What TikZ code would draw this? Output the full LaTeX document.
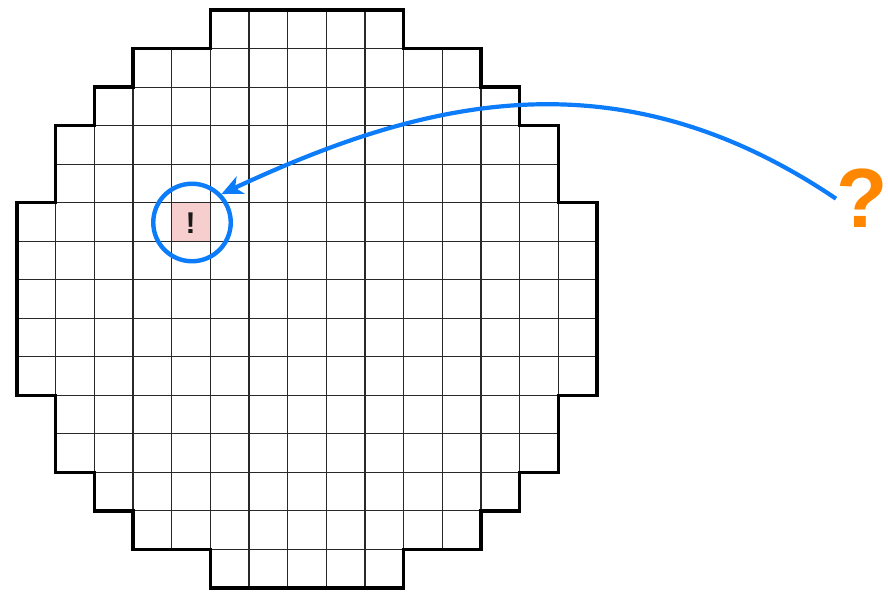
\documentclass[tikz,border=0pt]{standalone}
\usepackage{fontspec}
\setmainfont{Liberation Sans}
\usetikzlibrary{arrows.meta}
\definecolor{myblue}{RGB}{12,124,250}
\definecolor{myorange}{RGB}{255,135,0}
\definecolor{mypink}{RGB}{246,206,206}
\definecolor{gridgray}{RGB}{40,40,40}
\begin{document}
\begin{tikzpicture}[x=1pt,y=-1pt,
  gridline/.style={gridgray,line width=1.1pt},
  border/.style={black,line width=3.5pt,line join=miter},
  ring/.style={circle,draw=myblue,line width=4.4pt,minimum size=77.5pt,inner sep=0pt},
  bluearrow/.style={myblue,line width=4.2pt,-{Stealth[length=21pt,width=19pt,inset=6pt]}}]
\useasboundingbox (0,0) rectangle (888,593);
\begin{scope}[shift={(17,10)},x=38.667pt,y=-38.533pt]
  \fill[white] (5,0) -- (10,0) -- (10,1) -- (12,1) -- (12,2) -- (13,2) -- (13,3) -- (14,3) -- (14,5) -- (15,5) -- (15,10) -- (14,10) -- (14,12) -- (13,12) -- (13,13) -- (12,13) -- (12,14) -- (10,14) -- (10,15) -- (5,15) -- (5,14) -- (3,14) -- (3,13) -- (2,13) -- (2,12) -- (1,12) -- (1,10) -- (0,10) -- (0,5) -- (1,5) -- (1,3) -- (2,3) -- (2,2) -- (3,2) -- (3,1) -- (5,1) -- cycle;
  \fill[mypink] (4,5) rectangle (5,6);
  \begin{scope}
    \clip (5,0) -- (10,0) -- (10,1) -- (12,1) -- (12,2) -- (13,2) -- (13,3) -- (14,3) -- (14,5) -- (15,5) -- (15,10) -- (14,10) -- (14,12) -- (13,12) -- (13,13) -- (12,13) -- (12,14) -- (10,14) -- (10,15) -- (5,15) -- (5,14) -- (3,14) -- (3,13) -- (2,13) -- (2,12) -- (1,12) -- (1,10) -- (0,10) -- (0,5) -- (1,5) -- (1,3) -- (2,3) -- (2,2) -- (3,2) -- (3,1) -- (5,1) -- cycle;
    \foreach \i in {1,...,14} {
      \draw[gridline] (\i,0) -- (\i,15);
      \draw[gridline] (0,\i) -- (15,\i);
    }
  \end{scope}
  \draw[border] (5,0) -- (10,0) -- (10,1) -- (12,1) -- (12,2) -- (13,2) -- (13,3) -- (14,3) -- (14,5) -- (15,5) -- (15,10) -- (14,10) -- (14,12) -- (13,12) -- (13,13) -- (12,13) -- (12,14) -- (10,14) -- (10,15) -- (5,15) -- (5,14) -- (3,14) -- (3,13) -- (2,13) -- (2,12) -- (1,12) -- (1,10) -- (0,10) -- (0,5) -- (1,5) -- (1,3) -- (2,3) -- (2,2) -- (3,2) -- (3,1) -- (5,1) -- cycle;
\end{scope}
\node[font=\fontsize{30}{30}\selectfont\bfseries,text=black!90,inner sep=0pt,anchor=base] (ex) at (190.6,233.3) {!};
\node[ring] (c) at (192,222.5) {};
\node[text=myorange,font=\fontsize{84}{84}\selectfont\bfseries,inner sep=0pt,anchor=base west] (q) at (836,228) {?};
\draw[bluearrow] (q.west) .. controls (613,48) and (417,103) .. (c.44);
\end{tikzpicture}
\end{document}
